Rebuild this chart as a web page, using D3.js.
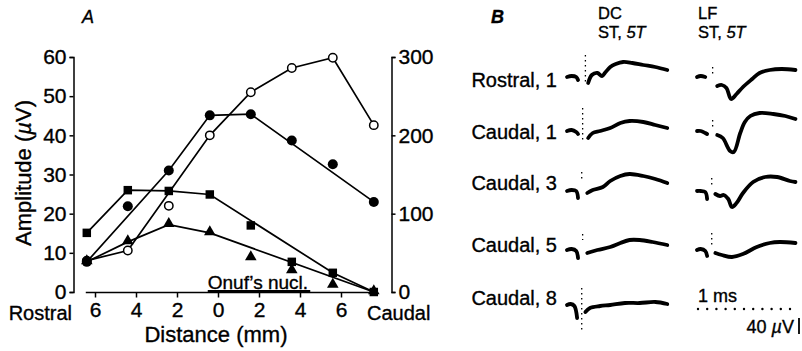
<!DOCTYPE html>
<meta charset="utf-8">
<style>

body {
  margin: 0;
  background: #fff;
}
svg {
  display: block;
  font-family: "Liberation Sans", Arial, sans-serif;
}
svg text {
  fill: #000;
  stroke: #000;
  stroke-width: 0.35px;
}
.axis path,
.axis line {
  stroke: #000;
  stroke-width: 1.5px;
}

</style>
<body>
<svg width="802" height="351"></svg>
<script src="https://d3js.org/d3.v7.min.js"></script>
<script>

// ---- panel A data ----
var distances = [-6.4, -4.4, -2.4, -0.4, 1.6, 3.6, 5.6, 7.6];   // mm, rostral negative
var xTicks = [-6, -4, -2, 0, 2, 4, 6];
var leftTicks = [0, 10, 20, 30, 40, 50, 60];
var rightTicks = [0, 100, 200, 300];

var openCircles = [40, 53, 110, 200, 255, 286, 299, 213];         // right axis
var filledCircles = [7.7, 21.9, 31, 45.1, 45.4, 38.7, 32.6, 23];
var squares = [15.1, 26, 25.8, 24.9, 17, 7.7, 4.9, 0];
var triangles = [7.7, 12.8, 17.2, 15.1, 8.7, 5.4, 1.7, 0];

// points the drawn lines go through (the others sit off the line)
var openLineIdx = [0, 1, 3, 4, 5, 6, 7];
var filledLineIdx = [0, 2, 3, 4, 7];
var squareLineIdx = [0, 1, 2, 3, 6, 7];
var triangleLineIdx = [0, 1, 2, 3, 7];

var onufRange = [-0.5, 4.5];

// ---- panel B data: [ms, uV] ----
var rowLabels = ["Rostral, 1", "Caudal, 1", "Caudal, 3", "Caudal, 5", "Caudal, 8"];

var dcPre = [
  [[0, 0], [0.05, 2.5], [0.1, 0], [0.12, -7.5]],
  [[0, 0], [0.05, 2.5], [0.1, -2.5], [0.12, -7.5]],
  [[0, 0], [0.05, 2.5], [0.1, 0], [0.12, -17.5]],
  [[0, 0], [0.05, 2.5], [0.1, -2.5], [0.12, -20]],
  [[0, 0], [0.04, 2.5], [0.08, -2.5], [0.11, -32.5]]
];
var dcResp = [
  [[0.23, -15], [0.27, 5], [0.33, 10], [0.38, 2.5], [0.42, 12.5], [0.47, 25], [0.53, 32.5], [0.61, 37.5], [0.71, 35], [0.83, 30], [0.96, 25], [1.09, 17.5]],
  [[0.23, -17.5], [0.28, -5], [0.36, 0], [0.47, 7.5], [0.58, 20], [0.68, 25], [0.83, 22.5], [0.96, 15], [1.09, 7.5]],
  [[0.22, -5], [0.28, 2.5], [0.39, 10], [0.47, 25], [0.58, 37.5], [0.68, 42.5], [0.83, 37.5], [0.96, 30], [1.09, 20]],
  [[0.22, -7.5], [0.33, 0], [0.47, 7.5], [0.58, 17.5], [0.68, 25], [0.79, 25], [0.93, 20], [1.09, 12.5]],
  [[0.2, -17.5], [0.25, -7.5], [0.36, -2.5], [0.47, 0], [0.63, 5], [0.79, 5], [0.96, 7.5], [1.09, 2.5]]
];
var dcArtifact = [[0.2, 55, -17.5], [0.17, 57.5, -30], [0.16, 47.5, 25], [0.17, 40, 25], [0.16, 42.5, -70]];

var lfPre = [
  [[0, 0], [0.04, 2.5], [0.09, 0]],
  [[0, 0], [0.04, 0], [0.09, -5], [0.11, -7.5]],
  [[0, 0], [0.04, 0], [0.09, -2.5], [0.11, -20]],
  [[0, 0], [0.04, 2.5], [0.09, -2.5], [0.11, -15]]
];
var lfResp = [
  [[0.22, -22.5], [0.27, -20], [0.32, -27.5], [0.37, -55], [0.43, -42.5], [0.5, -25], [0.6, -5], [0.68, 10], [0.79, 17.5], [0.92, 20], [1.07, 17.5]],
  [[0.22, -10], [0.28, -17.5], [0.36, -50], [0.4, -52.5], [0.47, -5], [0.52, 22.5], [0.58, 37.5], [0.68, 45], [0.83, 42.5], [0.96, 37.5], [1.07, 30]],
  [[0.2, -7.5], [0.25, -12.5], [0.29, -10], [0.34, -20], [0.38, -40], [0.43, -30], [0.5, -5], [0.61, 22.5], [0.74, 35], [0.87, 35], [1.01, 25], [1.07, 22.5]],
  [[0.2, -7.5], [0.27, -12.5], [0.38, -17.5], [0.5, -10], [0.65, 7.5], [0.79, 17.5], [0.9, 20], [1.07, 17.5]]
];
var lfArtifact = [[0.17, 25, 2.5], [0.17, 27.5, 2.5], [0.16, 32.5, 10], [0.16, 42.5, 12.5]];

var barMs = 1, barUV = 40;

// ================= panel A =================
var svg = d3.select("svg");

var x = d3.scaleLinear().domain([-6, 6]).range([95, 341]);
var yL = d3.scaleLinear().domain([0, 60]).range([292, 57]);
var yR = d3.scaleLinear().domain([0, 300]).range([292, 57]);

var gA = svg.append("g");

// left axis
gA.append("g")
    .attr("class", "axis")
    .attr("transform", "translate(73.5,0)")
    .call(d3.axisLeft(yL).tickValues(leftTicks).tickSize(4).tickSizeOuter(4).tickPadding(3));

// right axis
gA.append("g")
    .attr("class", "axis")
    .attr("transform", "translate(391.5,0)")
    .call(d3.axisRight(yR).tickValues(rightTicks).tickSize(4).tickSizeOuter(4).tickPadding(3));

// bottom axis (line runs past the tick range on both ends)
var xAxisG = gA.append("g")
    .attr("class", "axis")
    .attr("transform", "translate(0,292.5)")
    .call(d3.axisBottom(x).tickValues(xTicks).tickSize(5).tickPadding(5)
      .tickFormat(function(d) { return Math.abs(d); }));
xAxisG.select(".domain").remove();
xAxisG.append("line")
    .attr("x1", x(-6.45)).attr("x2", x(7.75))
    .attr("stroke", "#000").attr("stroke-width", 1.5);

gA.selectAll(".axis text").attr("font-size", 21).attr("font-family", "Liberation Sans, Arial, sans-serif");

gA.append("text")
    .attr("x", 72).attr("y", 320)
    .attr("text-anchor", "end").attr("font-size", 20)
    .text("Rostral");
gA.append("text")
    .attr("x", 367).attr("y", 320)
    .attr("font-size", 20)
    .text("Caudal");

gA.append("text")
    .attr("x", 216).attr("y", 342)
    .attr("text-anchor", "middle").attr("font-size", 22)
    .text("Distance (mm)");

var yTitle = gA.append("text")
    .attr("transform", "translate(31,173) rotate(-90)")
    .attr("text-anchor", "middle").attr("font-size", 22);
yTitle.append("tspan").text("Amplitude (");
yTitle.append("tspan").attr("font-style", "italic").text("\u00b5");
yTitle.append("tspan").text("V)");

gA.append("text")
    .attr("x", 82).attr("y", 23)
    .attr("font-size", 18).attr("font-style", "italic")
    .text("A");

// Onuf's nucleus marker
gA.append("rect")
    .attr("x", x(onufRange[0])).attr("width", x(onufRange[1]) - x(onufRange[0]))
    .attr("y", 290).attr("height", 3)
    .attr("fill", "#000");
gA.append("text")
    .attr("x", x(onufRange[0])).attr("y", 289)
    .attr("font-size", 19)
    .text("Onuf\u2019s nucl.");

// lines
function drawLine(vals, idx, yScale) {
  var pts = idx.map(function(i) { return [x(distances[i]), yScale(vals[i])]; });
  gA.append("path")
      .attr("d", d3.line()(pts))
      .attr("fill", "none")
      .attr("stroke", "#000")
      .attr("stroke-width", 1.7);
}
drawLine(openCircles, openLineIdx, yR);
drawLine(filledCircles, filledLineIdx, yL);
drawLine(squares, squareLineIdx, yL);
drawLine(triangles, triangleLineIdx, yL);

// markers
gA.selectAll(".tri")
    .data(triangles)
  .enter().append("path")
    .attr("d", d3.symbol().type(d3.symbolTriangle).size(58))
    .attr("transform", function(d, i) { return "translate(" + x(distances[i]) + "," + (yL(d) - 1) + ")"; })
    .attr("fill", "#000");

gA.selectAll(".sq")
    .data(squares)
  .enter().append("path")
    .attr("d", d3.symbol().type(d3.symbolSquare).size(72))
    .attr("transform", function(d, i) { return "translate(" + x(distances[i]) + "," + yL(d) + ")"; })
    .attr("fill", "#000");

gA.selectAll(".oc")
    .data(openCircles)
  .enter().append("circle")
    .attr("cx", function(d, i) { return x(distances[i]); })
    .attr("cy", function(d) { return yR(d); })
    .attr("r", 4.2)
    .attr("fill", "#fff")
    .attr("stroke", "#000")
    .attr("stroke-width", 1.5);

gA.selectAll(".fc")
    .data(filledCircles)
  .enter().append("circle")
    .attr("cx", function(d, i) { return x(distances[i]); })
    .attr("cy", function(d) { return yL(d); })
    .attr("r", 5)
    .attr("fill", "#000");

// ================= panel B =================
var gB = svg.append("g");
var rowY = [77, 131, 191, 250, 305];
var labelY = [87, 139, 190, 252, 305];
var dcX0 = 567, lfX0 = 697;

var t = d3.scaleLinear().domain([0, 1]).range([0, 92]);
var v = d3.scaleLinear().domain([0, 40]).range([0, -16]);

gB.append("text").attr("x", 491).attr("y", 23)
    .attr("font-size", 18).attr("font-style", "italic").attr("font-weight", "bold")
    .text("B");

function header(x0, name) {
  gB.append("text").attr("x", x0).attr("y", 19).attr("font-size", 16.5).text(name);
  var s = gB.append("text").attr("x", x0).attr("y", 38).attr("font-size", 16.5);
  s.append("tspan").text("ST, ");
  s.append("tspan").attr("font-style", "italic").text("5T");
}
header(598, "DC");
header(698, "LF");

gB.selectAll(".rowlab")
    .data(rowLabels)
  .enter().append("text")
    .attr("x", 557)
    .attr("y", function(d, i) { return labelY[i]; })
    .attr("text-anchor", "end")
    .attr("font-size", 20)
    .text(function(d) { return d; });

var traceLine = d3.line()
    .x(function(d) { return t(d[0]); })
    .y(function(d) { return v(d[1]); })
    .curve(d3.curveCatmullRom);

function drawTrace(x0, y0, pre, resp, art) {
  var g = gB.append("g").attr("transform", "translate(" + x0 + "," + y0 + ")");
  [pre, resp].forEach(function(seg) {
    g.append("path")
        .attr("d", traceLine(seg))
        .attr("fill", "none")
        .attr("stroke", "#000")
        .attr("stroke-width", 3.8)
        .attr("stroke-linejoin", "round")
        .attr("stroke-linecap", "round");
  });
  g.append("line")
      .attr("x1", t(art[0])).attr("x2", t(art[0]))
      .attr("y1", v(art[1])).attr("y2", v(art[2]))
      .attr("stroke", "#000")
      .attr("stroke-width", 1.3)
      .attr("stroke-dasharray", "1.5,3.5");
}

dcResp.forEach(function(r, i) { drawTrace(dcX0, rowY[i], dcPre[i], r, dcArtifact[i]); });
lfResp.forEach(function(r, i) { drawTrace(lfX0, rowY[i], lfPre[i], r, lfArtifact[i]); });

// scale bars
var sb = gB.append("g").attr("transform", "translate(698,309)");
sb.selectAll("circle")
    .data(d3.range(0, barMs + 0.001, 0.1))
  .enter().append("circle")
    .attr("cx", function(d) { return t(d); })
    .attr("cy", 0)
    .attr("r", 1.2)
    .attr("fill", "#000");
sb.append("text").attr("x", 0).attr("y", -7).attr("font-size", 18).text("1 ms");
sb.append("line")
    .attr("x1", t(barMs) + 9).attr("x2", t(barMs) + 9)
    .attr("y1", 9).attr("y2", 9 - v(barUV))
    .attr("stroke", "#000").attr("stroke-width", 1.8);
var uv = sb.append("text").attr("x", t(barMs) + 4).attr("y", 24)
    .attr("text-anchor", "end").attr("font-size", 18);
uv.append("tspan").text("40 ");
uv.append("tspan").attr("font-style", "italic").text("\u00b5");
uv.append("tspan").text("V");

</script>
